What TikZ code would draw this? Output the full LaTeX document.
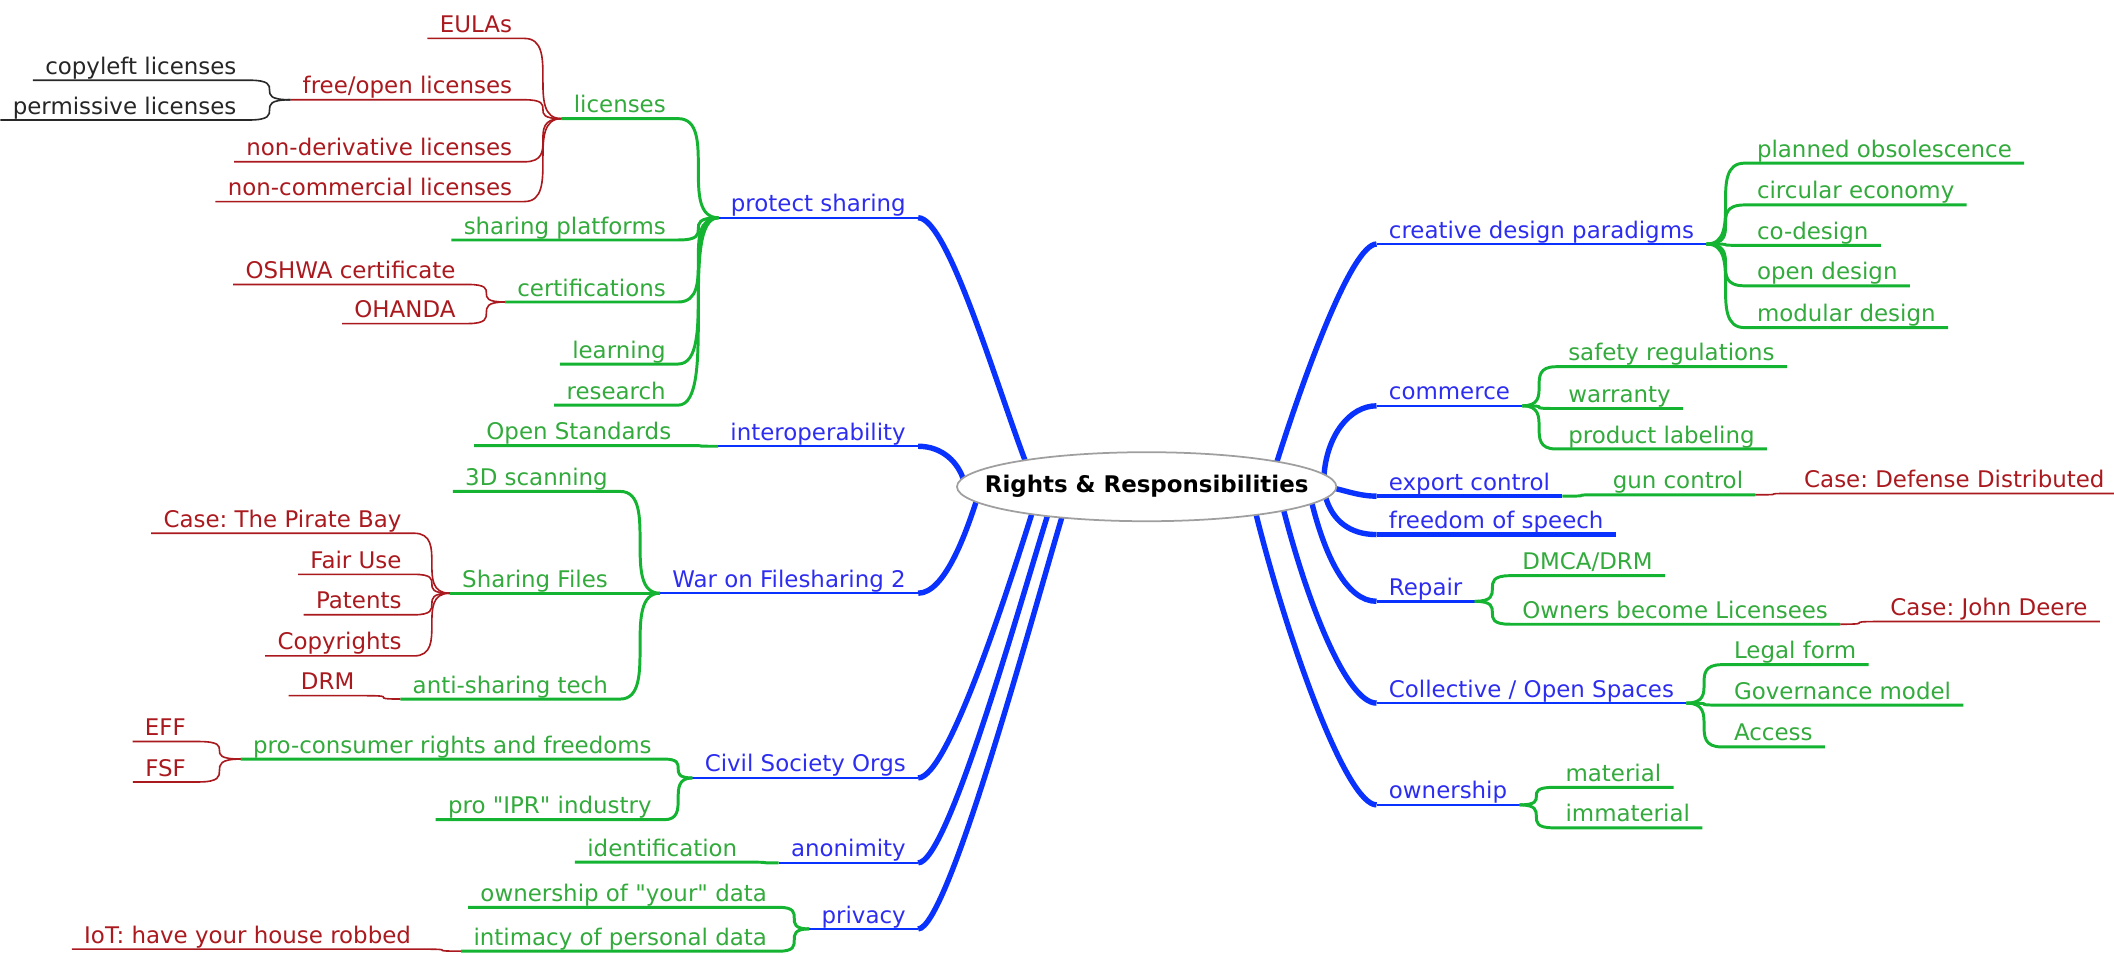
\documentclass[tikz,border=0pt]{standalone}
\usepackage{fontspec}
\setmainfont{DejaVu Sans}[Ligatures=TeXOff]
\usetikzlibrary{calc,shapes.geometric}
\pgfdeclarelayer{bg}
\pgfdeclarelayer{mid}
\pgfsetlayers{bg,mid,main}
\definecolor{cblue}{RGB}{10,50,255}
\definecolor{tblue}{RGB}{45,45,240}
\definecolor{cgreen}{RGB}{20,180,50}
\definecolor{tgreen}{RGB}{50,170,60}
\definecolor{cred}{RGB}{170,25,30}
\definecolor{cblack}{RGB}{40,40,40}
\tikzset{
 lbl/.style={font=\fontsize{17}{20}\selectfont, inner xsep=9pt, inner ysep=0pt, text height=12.5pt, text depth=4.2pt},
 lt/.style={lbl, anchor=south east},
 rt/.style={lbl, anchor=south west},
 tb/.style={text=tblue}, tg/.style={text=tgreen}, tr/.style={text=cred}, tk/.style={text=black!85},
 mainln/.style={draw=cblue, line width=4pt},
 bline/.style={draw=cblue, line width=1.8pt},
 bthick/.style={draw=cblue, line width=3.2pt},
 gline/.style={draw=cgreen, line width=2.2pt},
 rline/.style={draw=cred, line width=1.2pt},
 kline/.style={draw=cblack, line width=1.2pt},
 rootoval/.style={draw=gray!75, fill=white, line width=1.3pt},
}
\newcommand\LSub[3]{\draw[#1] (#2.south west) -- (#2.south east) .. controls (#3.south west |- #2.south east) and (#2.south east |- #3.south west) .. (#3.south west);}
\newcommand\RSub[3]{\draw[#1] (#2.south east) -- (#2.south west) .. controls (#3.south east |- #2.south west) and (#2.south west |- #3.south east) .. (#3.south east);}
\begin{document}
\frenchspacing
\begin{tikzpicture}[x=1pt,y=-1pt]
\useasboundingbox (0,0) rectangle (1568,707);
% root
\node[inner sep=0pt, font=\bfseries\fontsize{17}{20}\selectfont] (root) at (850.5,361) {Rights \& Responsibilities};
\begin{pgfonlayer}{mid}
\draw[rootoval] (root.center) ellipse [x radius=140.7, y radius=25.6];
\end{pgfonlayer}
% left main
\node[lt,tb] (ps) at (681,161.5) {protect sharing};
\node[lt,tb] (io) at (681,331) {interoperability};
\node[lt,tb] (war) at (681,440) {War on Filesharing 2};
\node[lt,tb] (cso) at (681,577) {Civil Society Orgs};
\node[lt,tb] (anon) at (681,640) {anonimity};
\node[lt,tb] (priv) at (681,689) {privacy};
% protect sharing
\node[lt,tg] (lic) at (503,88) {licenses};
\node[lt,tg] (shp) at (503,178) {sharing platforms};
\node[lt,tg] (cert) at (503,224) {certifications};
\node[lt,tg] (learn) at (503,270) {learning};
\node[lt,tg] (res) at (503,300.5) {research};
\node[lt,tr] (eula) at (389,28.5) {EULAs};
\node[lt,tr] (fol) at (389,74) {free/open licenses};
\node[lt,tr] (nd) at (389,120) {non-derivative licenses};
\node[lt,tr] (nc) at (389,149.5) {non-commercial licenses};
\node[lt,tk] (cl) at (184.5,59.5) {copyleft licenses};
\node[lt,tk] (pl) at (184.5,89) {permissive licenses};
\node[lt,tr] (osh) at (347,211) {OSHWA certificate};
\node[lt,tr] (oha) at (347,240) {OHANDA};
% interoperability
\node[lt,tg] (os) at (507,330.5) {Open Standards};
% war
\node[lt,tg] (scan) at (460,364.5) {3D scanning};
\node[lt,tg] (shf) at (460,440) {Sharing Files};
\node[lt,tg] (ast) at (460,518.5) {anti-sharing tech};
\node[lt,tr] (tpb) at (307,395.5) {Case: The Pirate Bay};
\node[lt,tr] (fair) at (307,426) {Fair Use};
\node[lt,tr] (pat) at (307,456) {Patents};
\node[lt,tr] (copy) at (307,486.5) {Copyrights};
\node[rt,tr] (drm) at (214,516) {DRM};
% civil society
\node[lt,tg] (pcr) at (492.5,563) {pro-consumer rights and freedoms};
\node[lt,tg] (ipr) at (492.5,608) {pro "IPR" industry};
\node[lt,tr] (eff) at (147,550) {EFF};
\node[lt,tr] (fsf) at (147,580) {FSF};
% anonimity, privacy
\node[lt,tg] (ident) at (556,639.5) {identification};
\node[lt,tg] (own) at (578,673) {ownership of "your" data};
\node[lt,tg] (intim) at (578,705.5) {intimacy of personal data};
\node[lt,tr] (iot) at (314,704) {IoT: have your house robbed};
% right main
\node[rt,tb] (cdp) at (1021,181) {creative design paradigms};
\node[rt,tb] (com) at (1021,301) {commerce};
\node[rt,tb] (exp) at (1021,368) {export control};
\node[rt,tb] (fos) at (1021,396.5) {freedom of speech};
\node[rt,tb] (rep) at (1021,446) {Repair};
\node[rt,tb] (coll) at (1021,521.5) {Collective / Open Spaces};
\node[rt,tb] (ownr) at (1021,597) {ownership};
% right children
\node[rt,tg] (plo) at (1294,121) {planned obsolescence};
\node[rt,tg] (cire) at (1294,152) {circular economy};
\node[rt,tg] (cod) at (1294,182) {co-design};
\node[rt,tg] (opd) at (1294,212) {open design};
\node[rt,tg] (mod) at (1294,243) {modular design};
\node[rt,tg] (saf) at (1154,272) {safety regulations};
\node[rt,tg] (wrt) at (1154,303) {warranty};
\node[rt,tg] (prl) at (1154,333) {product labeling};
\node[rt,tg] (gun) at (1187,367) {gun control};
\node[rt,tr] (cdd) at (1329,366) {Case: Defense Distributed};
\node[rt,tg] (dmca) at (1120,427) {DMCA/DRM};
\node[rt,tg] (olic) at (1120,463) {Owners become Licensees};
\node[rt,tr] (cjd) at (1393,461) {Case: John Deere};
\node[rt,tg] (legal) at (1277,493) {Legal form};
\node[rt,tg] (gov) at (1277,523) {Governance model};
\node[rt,tg] (acc) at (1277,554) {Access};
\node[rt,tg] (mat) at (1152,584) {material};
\node[rt,tg] (immat) at (1152,614) {immaterial};

\begin{pgfonlayer}{bg}
% main underlines
\foreach \n in {ps,io,war,cso,anon,priv,cdp,com,rep,coll,ownr}{\draw[bline] (\n.south west) -- (\n.south east);}
\draw[bthick] (exp.south west) -- (exp.south east);
\draw[bthick] (fos.south west) -- (fos.south east);
% left main curves
\draw[mainln] (ps.south east) .. controls +(22,0) and +(-23,-60) .. ($(root.center)+(-88.5,-15)$);
\draw[mainln] (io.south east) .. controls +(18,0) and +(-4,-14) .. ($(root.center)+(-135.5,-4)$);
\draw[mainln] (war.south east) .. controls +(20,0) and +(-8,25) .. ($(root.center)+(-125.5,8)$);
\draw[mainln] (cso.south east) .. controls +(22,0) and +(-19,60) .. ($(root.center)+(-84.5,18)$);
\draw[mainln] (anon.south east) .. controls +(22,0) and +(-22,70) .. ($(root.center)+(-72.5,18)$);
\draw[mainln] (priv.south east) .. controls +(22,0) and +(-24,80) .. ($(root.center)+(-61.5,18)$);
% right main curves
\draw[mainln] ($(root.center)+(95.5,-15)$) .. controls +(22,-70) and +(-18,0) .. (cdp.south west);
\draw[mainln] ($(root.center)+(131.5,-8)$) .. controls +(2,-30) and +(-20,0) .. (com.south west);
\draw[mainln] ($(root.center)+(133.5,0)$) .. controls +(12,2) and +(-14,0) .. (exp.south west);
\draw[mainln] ($(root.center)+(132.5,7)$) .. controls +(5,18) and +(-20,0) .. (fos.south west);
\draw[mainln] ($(root.center)+(122.5,12)$) .. controls +(10,40) and +(-22,0) .. (rep.south west);
\draw[mainln] ($(root.center)+(101.5,17)$) .. controls +(18,70) and +(-22,0) .. (coll.south west);
\draw[mainln] ($(root.center)+(80.5,18)$) .. controls +(25,100) and +(-22,0) .. (ownr.south west);
% left sub branches
\LSub{gline}{lic}{ps}
\LSub{gline}{shp}{ps}
\LSub{gline}{cert}{ps}
\LSub{gline}{learn}{ps}
\LSub{gline}{res}{ps}
\LSub{rline}{eula}{lic}
\LSub{rline}{fol}{lic}
\LSub{rline}{nd}{lic}
\LSub{rline}{nc}{lic}
\LSub{kline}{cl}{fol}
\LSub{kline}{pl}{fol}
\LSub{rline}{osh}{cert}
\LSub{rline}{oha}{cert}
\LSub{gline}{os}{io}
\LSub{gline}{scan}{war}
\LSub{gline}{shf}{war}
\LSub{gline}{ast}{war}
\LSub{rline}{tpb}{shf}
\LSub{rline}{fair}{shf}
\LSub{rline}{pat}{shf}
\LSub{rline}{copy}{shf}
\LSub{rline}{drm}{ast}
\LSub{gline}{pcr}{cso}
\LSub{gline}{ipr}{cso}
\LSub{rline}{eff}{pcr}
\LSub{rline}{fsf}{pcr}
\LSub{gline}{ident}{anon}
\LSub{gline}{own}{priv}
\LSub{gline}{intim}{priv}
\LSub{rline}{iot}{intim}
% right sub branches
\RSub{gline}{plo}{cdp}
\RSub{gline}{cire}{cdp}
\RSub{gline}{cod}{cdp}
\RSub{gline}{opd}{cdp}
\RSub{gline}{mod}{cdp}
\RSub{gline}{saf}{com}
\RSub{gline}{wrt}{com}
\RSub{gline}{prl}{com}
\RSub{gline}{gun}{exp}
\RSub{rline}{cdd}{gun}
\RSub{gline}{dmca}{rep}
\RSub{gline}{olic}{rep}
\RSub{rline}{cjd}{olic}
\RSub{gline}{legal}{coll}
\RSub{gline}{gov}{coll}
\RSub{gline}{acc}{coll}
\RSub{gline}{mat}{ownr}
\RSub{gline}{immat}{ownr}
\end{pgfonlayer}
\end{tikzpicture}
\end{document}
